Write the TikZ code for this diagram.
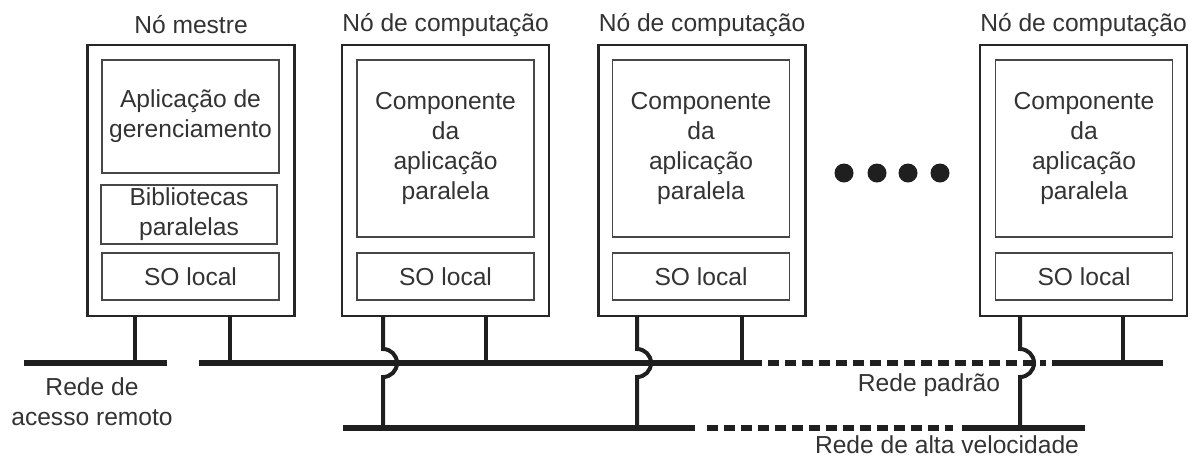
\documentclass[tikz,border=0pt]{standalone}
\usepackage{fontspec}
\setmainfont{Liberation Sans}
\begin{document}
\begin{tikzpicture}[x=1pt,y=-1pt,
  outerbox/.style={draw=black!85, line width=2.6pt, minimum width=207pt, minimum height=271pt, inner sep=0pt, outer sep=0pt},
  innerbox/.style={draw=black!72, line width=1.6pt, minimum width=177pt, inner sep=0pt, outer sep=0pt, align=center, text=black!80, font=\fontsize{24.6}{30}\selectfont},
  lbl/.style={text=black!80, font=\fontsize{24.6}{30}\selectfont, align=center, inner sep=0pt},
  net/.style={draw=black!88, line width=5.5pt},
  netdash/.style={net, dash pattern=on 11pt off 6pt},
  drop/.style={draw=black!88, line width=4pt},
  dot/.style={circle, fill=black!88, minimum size=19pt, inner sep=0pt}
]
\useasboundingbox (0,0) rectangle (1190,459);

% master node
\node[outerbox] (mo) at (191,180.5) {};
\node[lbl] (mol) at (191,25) {Nó mestre};
\node[innerbox, minimum height=113pt] (mapp) at (190.5,116.5) {Aplicação de\\gerenciamento};
\node[innerbox, minimum width=176pt, minimum height=59pt] (mbib) at (189,214.5) {Bibliotecas\\paralelas};
\node[innerbox, minimum height=47pt] (mso) at (190.5,276.5) {SO local};

% compute nodes
\foreach \n/\cx/\ix in {c1/445.5/445.5, c2/702/701, c3/1083.5/1084}{
  \node[outerbox] (\n) at (\cx,180.5) {};
  \node[lbl] (\n l) at (\cx,25) {Nó de computação};
  \node[innerbox, minimum height=177pt] (\n app) at (\ix,148.5) {Componente\\da\\aplicação\\paralela};
  \node[innerbox, minimum height=47pt] (\n so) at (\ix,276.5) {SO local};
}

% dots
\node[dot] (d1) at (844,173) {};
\node[dot] (d2) at (877,173) {};
\node[dot] (d3) at (908,173) {};
\node[dot] (d4) at (940,173) {};

% networks
\coordinate (ra) at (24,363);  \coordinate (rb) at (167,363);
\coordinate (sa) at (199,363); \coordinate (sb) at (762,363);
\coordinate (sc) at (768,363); \coordinate (sd) at (1046,363);
\coordinate (se) at (1052,363); \coordinate (sf) at (1163,363);
\coordinate (ha) at (343,428); \coordinate (hb) at (695,428);
\coordinate (hc) at (707,428); \coordinate (hd) at (953,428);
\coordinate (he) at (962,428); \coordinate (hf) at (1085,428);

\draw[net] (ra) -- (rb);
\draw[net] (sa) -- (sb);
\draw[netdash] (sc) -- (sd);
\draw[net] (se) -- (sf);
\draw[net] (ha) -- (hb);
\draw[netdash] (hc) -- (hd);
\draw[net] (he) -- (hf);

% drops to standard / remote networks
\coordinate (m1) at (135,363);
\coordinate (m2) at (230,363);
\coordinate (s1) at (486,363);
\coordinate (s2) at (742,363);
\coordinate (s3) at (1123,363);
\draw[drop] (mo.south -| m1) -- (m1);
\draw[drop] (mo.south -| m2) -- (m2);
\draw[drop] (c1.south -| s1) -- (s1);
\draw[drop] (c2.south -| s2) -- (s2);
\draw[drop] (c3.south -| s3) -- (s3);

% drops to high-speed network, hopping over the standard network
\coordinate (h1) at (383,428);
\coordinate (h2) at (637,428);
\coordinate (h3) at (1020,428);
\foreach \n/\h in {c1/h1, c2/h2, c3/h3}{
  \draw[drop] (\n.south -| \h) -- (\h |- 0,349) arc[start angle=-90, end angle=90, radius=14] -- (\h);
}

% labels
\node[lbl] (lr) at (92,402) {Rede de\\acesso remoto};
\node[lbl] (ls) at (929,385) {Rede padrão};
\node[lbl] (lh) at (947,445) {Rede de alta velocidade};
\end{tikzpicture}
\end{document}
